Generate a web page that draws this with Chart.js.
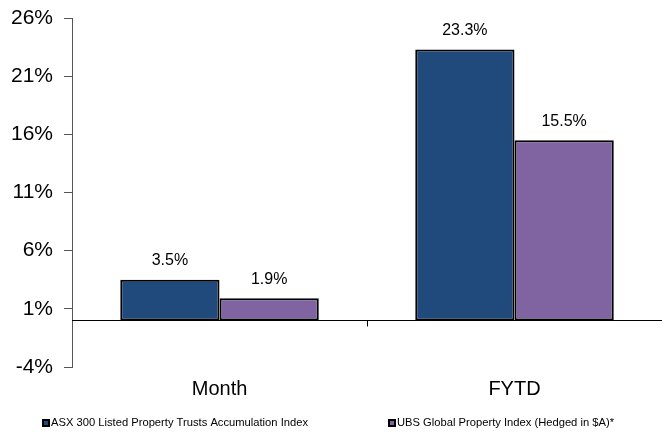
<!DOCTYPE html>
<html>
<head>
<meta charset="utf-8">
<script src="https://cdn.jsdelivr.net/npm/chart.js@4.4.0/dist/chart.umd.min.js"></script>
<style>
  html, body { margin: 0; padding: 0; background: #fff; }
  #wrap { width: 662px; height: 441px; }
</style>
</head>
<body>
<div id="wrap"><canvas id="c" width="662" height="441"></canvas></div>
<script>
// 数据
const categories = ['Month', 'FYTD'];
const asxValues = [3.5, 23.3];
const ubsValues = [1.9, 15.5];
const seriesNames = [
    'ASX 300 Listed Property Trusts Accumulation Index',
    'UBS Global Property Index (Hedged in $A)*'
];
const yTicks = [-4, 1, 6, 11, 16, 21, 26];

const FONT = '"Liberation Sans", Arial, sans-serif';

// 零线和分类刻度
const zeroLinePlugin = {
    id: 'zeroLine',
    afterDatasetsDraw(chart) {
        const ctx = chart.ctx;
        const area = chart.chartArea;
        const y0 = chart.scales.y.getPixelForValue(0);
        ctx.save();
        ctx.strokeStyle = '#000';
        ctx.lineWidth = 1;
        ctx.beginPath();
        ctx.moveTo(area.left, Math.round(y0) + 0.5);
        ctx.lineTo(area.right, Math.round(y0) + 0.5);
        const xb = Math.round(chart.scales.x.getPixelForValue(0.5)) + 0.5;
        ctx.moveTo(xb, y0);
        ctx.lineTo(xb, y0 + 6);
        ctx.stroke();
        ctx.restore();
    }
};

// 数值标签
const valueLabelPlugin = {
    id: 'valueLabels',
    afterDatasetsDraw(chart) {
        const ctx = chart.ctx;
        ctx.save();
        ctx.font = '16px ' + FONT;
        ctx.fillStyle = '#000';
        ctx.textAlign = 'center';
        ctx.textBaseline = 'middle';
        chart.data.datasets.forEach(function(ds, i) {
            chart.getDatasetMeta(i).data.forEach(function(bar, j) {
                ctx.fillText(ds.data[j].toFixed(1) + '%', bar.x, bar.y - 19);
            });
        });
        ctx.restore();
    }
};

// 图例（底部，两项分开）
const legendPlugin = {
    id: 'customLegend',
    afterDraw(chart) {
        const ctx = chart.ctx;
        const starts = [42, 388];
        const y = 423;
        ctx.save();
        ctx.font = '11.2px ' + FONT;
        ctx.textBaseline = 'middle';
        ctx.textAlign = 'left';
        chart.data.datasets.forEach(function(ds, i) {
            const x = starts[i];
            ctx.fillStyle = '#000';
            ctx.fillRect(x, y - 4, 8, 8);
            ctx.fillStyle = ds.backgroundColor;
            ctx.fillRect(x + 2, y - 2, 4, 4);
            ctx.fillStyle = '#000';
            ctx.fillText(ds.label, x + 9, y);
        });
        ctx.restore();
    }
};

new Chart(document.getElementById('c').getContext('2d'), {
    type: 'bar',
    data: {
        labels: categories,
        datasets: [{
            label: seriesNames[0],
            data: asxValues,
            backgroundColor: '#214A7C',
            borderColor: '#000',
            borderWidth: 2,
            borderSkipped: false
        }, {
            label: seriesNames[1],
            data: ubsValues,
            backgroundColor: '#8064A2',
            borderColor: '#000',
            borderWidth: 2,
            borderSkipped: false
        }]
    },
    options: {
        responsive: false,
        animation: false,
        devicePixelRatio: 1,
        categoryPercentage: 0.673,
        barPercentage: 1,
        layout: { padding: { left: 0, right: 0, top: 0, bottom: 30 } },
        scales: {
            x: {
                grid: { display: false, drawTicks: false },
                border: { display: false },
                ticks: {
                    color: '#000',
                    padding: 10,
                    font: { family: FONT, size: 20 }
                }
            },
            y: {
                min: -4,
                max: 26,
                afterBuildTicks: function(scale) {
                    scale.ticks = yTicks.map(function(v) { return { value: v }; });
                },
                afterFit: function(scale) {
                    scale.paddingTop = 18;
                },
                grid: { drawOnChartArea: false, tickLength: 8, color: '#555' },
                border: { display: true, color: '#555', width: 1 },
                ticks: {
                    color: '#000',
                    padding: 11,
                    font: { family: FONT, size: 21 },
                    callback: function(v) { return v + '%'; }
                }
            }
        },
        plugins: {
            legend: { display: false },
            tooltip: { enabled: false }
        }
    },
    plugins: [zeroLinePlugin, valueLabelPlugin, legendPlugin]
});
</script>
</body>
</html>
